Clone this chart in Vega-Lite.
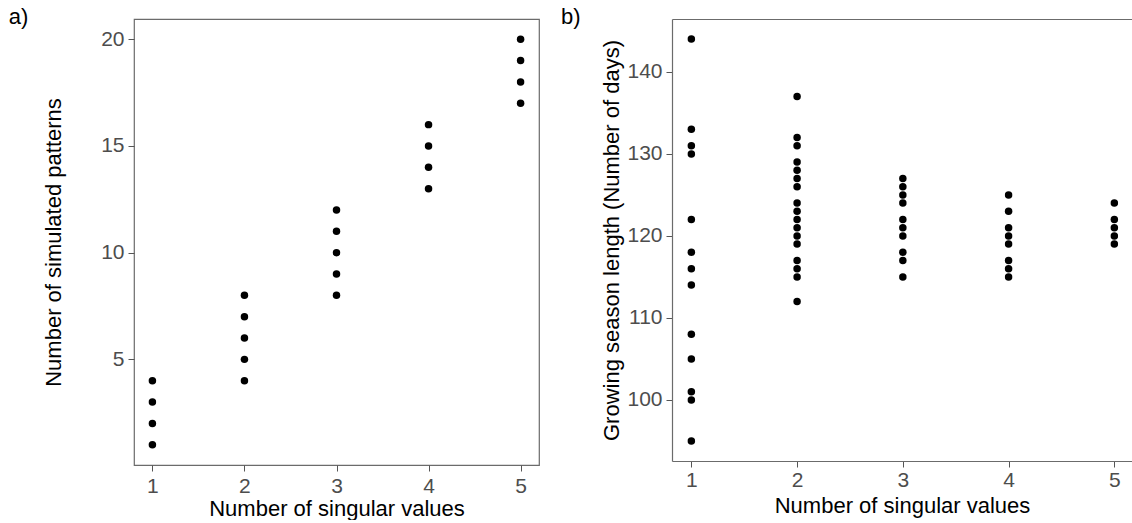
{
  "$schema": "https://vega.github.io/schema/vega-lite/v6.json",
  "padding": {"left": 8, "top": 5, "right": 0, "bottom": 0},
  "background": "white",
  "config": {
    "font": "Liberation Sans",
    "view": {"stroke": "#6b6b6b", "strokeWidth": 1.2},
    "axis": {"grid": false, "domain": false, "tickColor": "#555555", "tickSize": 6, "labelFontSize": 21, "labelColor": "#4d4d4d", "titleFontSize": 22, "titleFontWeight": "normal", "titleColor": "#000000", "labelPadding": 4, "titlePadding": 5},
    "title": {"fontSize": 22, "fontWeight": "normal", "anchor": "start", "frame": "bounds", "color": "#000000"}
  },
  "spacing": 20,
  "datasets": {
    "a": [
      {"sv": 1, "patterns": 1}, {"sv": 1, "patterns": 2}, {"sv": 1, "patterns": 3}, {"sv": 1, "patterns": 4},
      {"sv": 2, "patterns": 4}, {"sv": 2, "patterns": 5}, {"sv": 2, "patterns": 6}, {"sv": 2, "patterns": 7}, {"sv": 2, "patterns": 8},
      {"sv": 3, "patterns": 8}, {"sv": 3, "patterns": 9}, {"sv": 3, "patterns": 10}, {"sv": 3, "patterns": 11}, {"sv": 3, "patterns": 12},
      {"sv": 4, "patterns": 13}, {"sv": 4, "patterns": 14}, {"sv": 4, "patterns": 15}, {"sv": 4, "patterns": 16},
      {"sv": 5, "patterns": 17}, {"sv": 5, "patterns": 18}, {"sv": 5, "patterns": 19}, {"sv": 5, "patterns": 20}
    ],
    "b": [
      {"sv": 1, "days": 144}, {"sv": 1, "days": 133}, {"sv": 1, "days": 131}, {"sv": 1, "days": 130}, {"sv": 1, "days": 122},
      {"sv": 1, "days": 118}, {"sv": 1, "days": 116}, {"sv": 1, "days": 114}, {"sv": 1, "days": 108}, {"sv": 1, "days": 105},
      {"sv": 1, "days": 101}, {"sv": 1, "days": 100}, {"sv": 1, "days": 95},
      {"sv": 2, "days": 137}, {"sv": 2, "days": 132}, {"sv": 2, "days": 131}, {"sv": 2, "days": 129}, {"sv": 2, "days": 128},
      {"sv": 2, "days": 127}, {"sv": 2, "days": 126}, {"sv": 2, "days": 124}, {"sv": 2, "days": 123}, {"sv": 2, "days": 122},
      {"sv": 2, "days": 121}, {"sv": 2, "days": 120}, {"sv": 2, "days": 119}, {"sv": 2, "days": 117}, {"sv": 2, "days": 116},
      {"sv": 2, "days": 115}, {"sv": 2, "days": 112},
      {"sv": 3, "days": 127}, {"sv": 3, "days": 126}, {"sv": 3, "days": 125}, {"sv": 3, "days": 124}, {"sv": 3, "days": 122},
      {"sv": 3, "days": 121}, {"sv": 3, "days": 120}, {"sv": 3, "days": 118}, {"sv": 3, "days": 117}, {"sv": 3, "days": 115},
      {"sv": 4, "days": 125}, {"sv": 4, "days": 123}, {"sv": 4, "days": 121}, {"sv": 4, "days": 120}, {"sv": 4, "days": 119},
      {"sv": 4, "days": 117}, {"sv": 4, "days": 116}, {"sv": 4, "days": 115},
      {"sv": 5, "days": 124}, {"sv": 5, "days": 122}, {"sv": 5, "days": 121}, {"sv": 5, "days": 120}, {"sv": 5, "days": 119}
    ]
  },
  "hconcat": [
    {
      "width": 405,
      "height": 446,
      "title": {"text": "a)", "dx": -34, "offset": -10},
      "data": {"name": "a"},
      "mark": {"type": "circle", "size": 56, "color": "#000000", "opacity": 1},
      "encoding": {
        "x": {"field": "sv", "type": "quantitative", "scale": {"domain": [0.8, 5.2], "nice": false, "zero": false},
              "axis": {"values": [1, 2, 3, 4, 5], "title": "Number of singular values", "format": "d", "labelPadding": 4, "titlePadding": 2}},
        "y": {"field": "patterns", "type": "quantitative", "scale": {"domain": [0.05, 20.95], "nice": false, "zero": false},
              "axis": {"values": [5, 10, 15, 20], "title": "Number of simulated patterns", "format": "d", "titlePadding": 35}}
      }
    },
    {
      "width": 460,
      "height": 442,
      "title": {"text": "b)", "dx": -40, "offset": -10},
      "data": {"name": "b"},
      "view": {"stroke": null},
      "layer": [
        {
          "mark": {"type": "circle", "size": 56, "color": "#000000", "opacity": 1},
          "encoding": {
            "x": {"field": "sv", "type": "quantitative", "scale": {"domain": [0.817, 5.167], "nice": false, "zero": false},
                  "axis": {"values": [1, 2, 3, 4, 5], "title": "Number of singular values", "format": "d", "labelPadding": 2, "domain": true, "domainColor": "#6b6b6b", "domainWidth": 1.2}},
            "y": {"field": "days", "type": "quantitative", "scale": {"domain": [92.55, 146.45], "nice": false, "zero": false},
                  "axis": {"values": [100, 110, 120, 130, 140], "title": "Growing season length (Number of days)", "format": "d", "titlePadding": 3, "domain": true, "domainColor": "#6b6b6b", "domainWidth": 1.2}}
          }
        },
        {
          "mark": {"type": "circle", "size": 0, "opacity": 0},
          "encoding": {
            "x": {"field": "sv", "type": "quantitative",
                  "axis": {"orient": "top", "labels": false, "ticks": false, "title": null, "domain": true, "domainColor": "#6b6b6b", "domainWidth": 1.2}},
            "y": {"field": "days", "type": "quantitative"}
          }
        }
      ],
      "resolve": {"axis": {"x": "independent"}}
    }
  ]
}
